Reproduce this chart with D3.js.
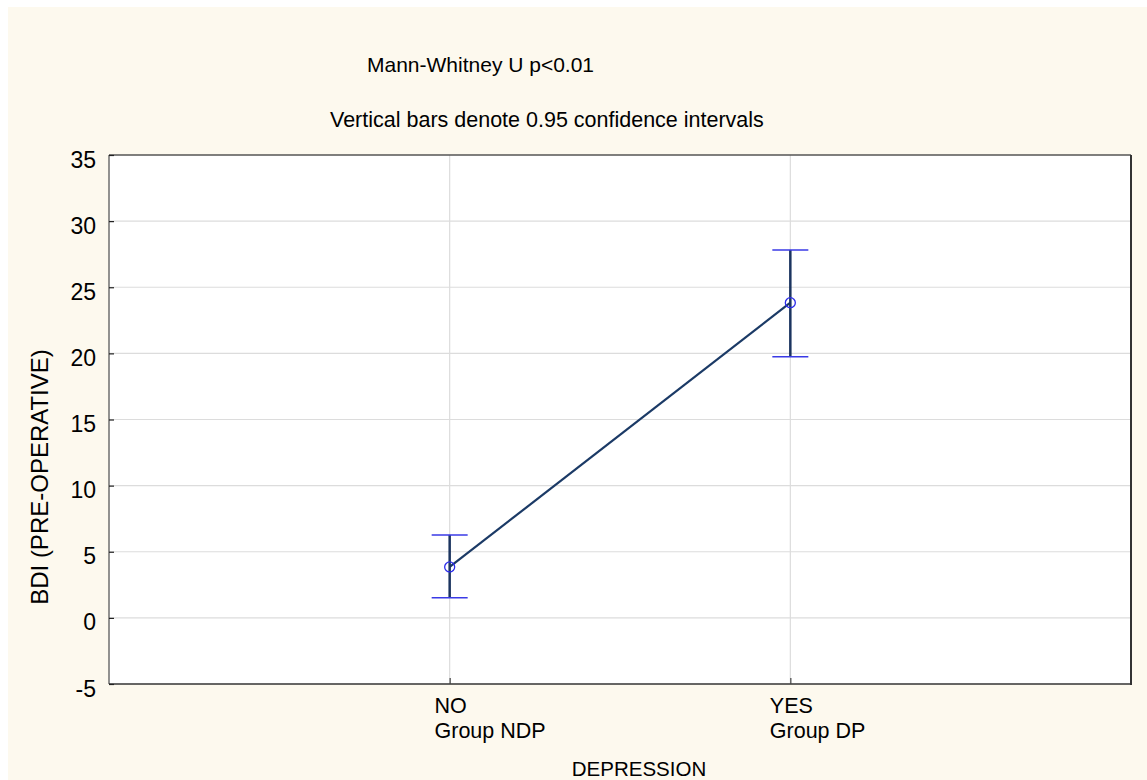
<!DOCTYPE html>
<html><head><meta charset="utf-8">
<script src="https://cdn.jsdelivr.net/npm/d3@7/dist/d3.min.js"></script>
<style>body{margin:0;background:#fff}svg{display:block;font-family:Arial,"Liberation Sans",sans-serif}</style>
</head><body><svg id="c" width="1147" height="780"></svg>
<script>
const categories = ["NO", "YES"];
const groupLabels = ["Group NDP", "Group DP"];
const means = [3.85, 23.83];
const upper = [6.27, 27.82];
const lower = [1.53, 19.75];
const yTicks = [-5, 0, 5, 10, 15, 20, 25, 30, 35];
const titleLines = ["Mann-Whitney U p<0.01", "Vertical bars denote 0.95 confidence intervals"];
const xTitle = "DEPRESSION";
const yTitle = "BDI (PRE-OPERATIVE)";

const svg = d3.select("#c");
const L = 109, R = 1131, T = 155, B = 684;
svg.append("rect").attr("x", 8).attr("y", 7).attr("width", 1147 - 8).attr("height", 780 - 7).attr("fill", "#fdf9ee");
svg.append("rect").attr("x", L).attr("y", T).attr("width", R - L).attr("height", B - T).attr("fill", "#fff");

const x = d3.scalePoint().domain(categories).range([L, R]).padding(1);
const y = d3.scaleLinear().domain([-5, 35]).range([B, T]);

// gridlines
svg.append("g").selectAll("line").data(yTicks.slice(1, -1)).join("line")
  .attr("x1", L).attr("x2", R).attr("y1", d => y(d)).attr("y2", d => y(d))
  .attr("stroke", "#dcdcdc").attr("stroke-width", 1.2);
svg.append("g").selectAll("line").data(categories).join("line")
  .attr("x1", d => x(d)).attr("x2", d => x(d)).attr("y1", T).attr("y2", B)
  .attr("stroke", "#dcdcdc").attr("stroke-width", 1.2);

// frame
svg.append("line").attr("x1", L).attr("x2", L).attr("y1", T).attr("y2", B).attr("stroke", "#6e6e6e").attr("stroke-width", 1.5);
svg.append("line").attr("x1", L).attr("x2", R).attr("y1", T).attr("y2", T).attr("stroke", "#555").attr("stroke-width", 1.5);
svg.append("line").attr("x1", R).attr("x2", R).attr("y1", T).attr("y2", B + 1).attr("stroke", "#333").attr("stroke-width", 2);
svg.append("line").attr("x1", L).attr("x2", R + 1).attr("y1", B).attr("y2", B).attr("stroke", "#333").attr("stroke-width", 1.5);

// y axis
const yAxis = d3.axisLeft(y).tickValues(yTicks).tickSize(-5).tickPadding(13).tickFormat(d => String(d));
const ya = svg.append("g").attr("transform", `translate(${L},0)`).call(yAxis);
ya.select(".domain").remove();
ya.selectAll(".tick line").attr("stroke", "#222").attr("stroke-width", 1.2);
ya.selectAll(".tick text").attr("font-size", 23).attr("fill", "#000").attr("dy", null).attr("y", 12)
  .attr("font-family", "Arial, 'Liberation Sans', sans-serif");

// x axis ticks
const xAxis = d3.axisBottom(x).tickSize(-6).tickFormat("");
const xa = svg.append("g").attr("transform", `translate(0,${B})`).call(xAxis);
xa.select(".domain").remove();
xa.selectAll(".tick line").attr("stroke", "#444").attr("stroke-width", 1.2);

// x labels (two lines, left aligned so first line is centered on tick)
categories.forEach((c, i) => {
  const t1 = svg.append("text").attr("y", 713).attr("font-size", 21.5).text(c);
  const w = t1.node().getComputedTextLength();
  const lx = x(c) - w / 2 + 1;
  t1.attr("x", lx);
  svg.append("text").attr("x", lx).attr("y", 738).attr("font-size", 21.5).text(groupLabels[i]);
});

// titles
svg.append("text").attr("x", 367).attr("y", 72).attr("font-size", 21).text(titleLines[0]);
svg.append("text").attr("x", 330).attr("y", 127).attr("font-size", 21.5).text(titleLines[1]);
svg.append("text").attr("x", 639).attr("y", 776).attr("text-anchor", "middle").attr("font-size", 20.5).text(xTitle);
svg.append("text").attr("transform", `translate(48,477) rotate(-90)`).attr("text-anchor", "middle")
  .attr("font-size", 24).text(yTitle);

// connecting line
const line = d3.line().x((d, i) => x(categories[i])).y(d => y(d));
svg.append("path").datum(means).attr("d", line).attr("fill", "none").attr("stroke", "#1b3a66").attr("stroke-width", 2.2);

// error bars
const g = svg.append("g");
categories.forEach((c, i) => {
  g.append("line").attr("x1", x(c)).attr("x2", x(c)).attr("y1", y(lower[i])).attr("y2", y(upper[i]))
    .attr("stroke", "#1b3460").attr("stroke-width", 2.5);
  [lower[i], upper[i]].forEach(v => {
    g.append("line").attr("x1", x(c) - 18).attr("x2", x(c) + 18).attr("y1", y(v)).attr("y2", y(v))
      .attr("stroke", "#3a3ae6").attr("stroke-width", 1.5);
  });
  g.append("circle").attr("cx", x(c)).attr("cy", y(means[i])).attr("r", 5)
    .attr("fill", "none").attr("stroke", "#2b2bea").attr("stroke-width", 1.3);
});
</script></body></html>
